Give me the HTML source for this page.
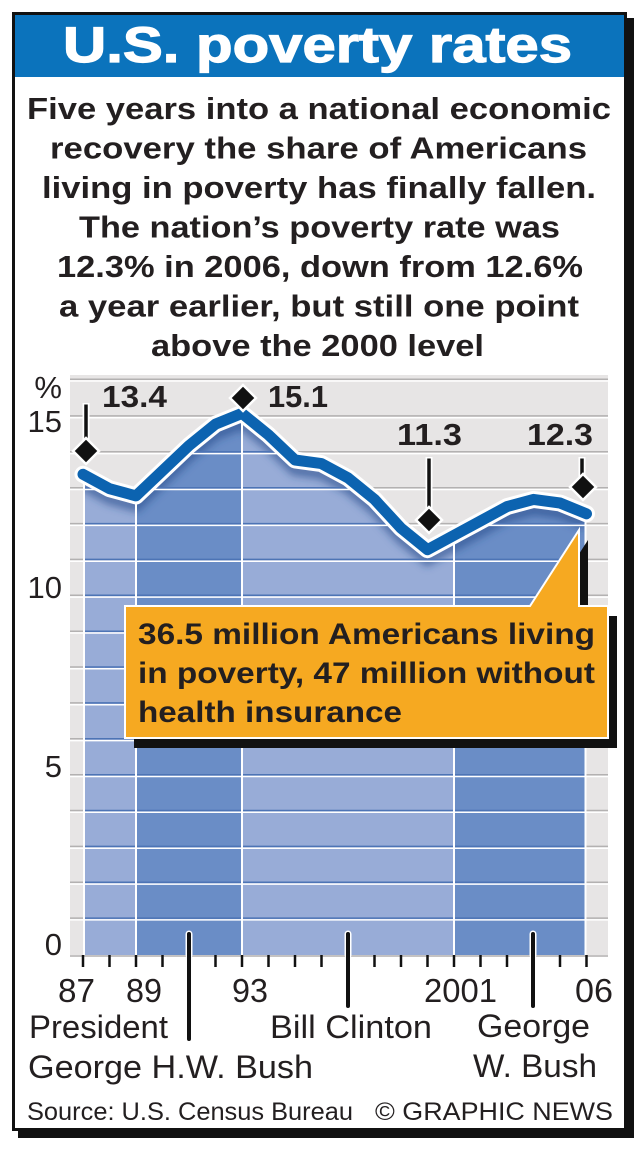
<!DOCTYPE html>
<html><head><meta charset="utf-8"><style>html,body{margin:0;padding:0;background:#fff}svg{display:block}text{font-family:"Liberation Sans",Arial,sans-serif}</style></head>
<body>
<svg width="642" height="1154" viewBox="0 0 642 1154" xmlns="http://www.w3.org/2000/svg">
<defs>
<clipPath id="area"><path d="M83,955 L83,474.3 L109.5,488.7 L136,495.9 L162.5,470.8 L189,445.6 L215.5,424.1 L242,413.4 L268.5,434.9 L295,460 L321.5,463.6 L348,477.9 L374.5,499.4 L401,528.1 L427.5,549.7 L454,535.3 L480.5,521 L507,506.6 L533.5,499.4 L560,503 L586.5,513.8 L586.5,955 Z"/></clipPath>
<filter id="blur" x="-10%" y="-50%" width="120%" height="200%"><feGaussianBlur stdDeviation="4"/></filter>
</defs>
<!-- frame + shadow -->
<rect x="18" y="18" width="616" height="1120" fill="#111"/>
<rect x="13.5" y="13.5" width="612" height="1116" fill="#fff" stroke="#111" stroke-width="3"/>
<rect x="15" y="15" width="609" height="62" fill="#0b73bc"/>
<text x="63" y="62" font-size="50" font-weight="bold" fill="#fff" stroke="#fff" stroke-width="1.2" textLength="509" lengthAdjust="spacingAndGlyphs">U.S. poverty rates</text>
<g font-size="31" font-weight="bold" fill="#231f20">
<text x="27" y="119" textLength="584" lengthAdjust="spacingAndGlyphs">Five years into a national economic</text>
<text x="50" y="158.5" textLength="537" lengthAdjust="spacingAndGlyphs">recovery the share of Americans</text>
<text x="42" y="198" textLength="554" lengthAdjust="spacingAndGlyphs">living in poverty has finally fallen.</text>
<text x="79" y="237.5" textLength="481" lengthAdjust="spacingAndGlyphs">The nation’s poverty rate was</text>
<text x="57" y="277" textLength="526" lengthAdjust="spacingAndGlyphs">12.3% in 2006, down from 12.6%</text>
<text x="59" y="316.5" textLength="520" lengthAdjust="spacingAndGlyphs">a year earlier, but still one point</text>
<text x="151" y="356" textLength="333" lengthAdjust="spacingAndGlyphs">above the 2000 level</text>
</g>
<!-- chart background -->
<rect x="70" y="375" width="538" height="580" fill="#e7e5e5"/>
<g stroke-width="1.5">
<g stroke="#b3b1b1">
<line x1="70" x2="608" y1="379.2" y2="379.2"/>
<line x1="70" x2="608" y1="415.9" y2="415.9"/>
<line x1="70" x2="608" y1="451.8" y2="451.8"/>
<line x1="70" x2="608" y1="487.7" y2="487.7"/>
<line x1="70" x2="608" y1="523.6" y2="523.6"/>
<line x1="70" x2="608" y1="559.4" y2="559.4"/>
<line x1="70" x2="608" y1="595.3" y2="595.3"/>
<line x1="70" x2="608" y1="631.2" y2="631.2"/>
<line x1="70" x2="608" y1="667.0" y2="667.0"/>
<line x1="70" x2="608" y1="702.9" y2="702.9"/>
<line x1="70" x2="608" y1="738.8" y2="738.8"/>
<line x1="70" x2="608" y1="774.7" y2="774.7"/>
<line x1="70" x2="608" y1="810.5" y2="810.5"/>
<line x1="70" x2="608" y1="846.4" y2="846.4"/>
<line x1="70" x2="608" y1="882.3" y2="882.3"/>
<line x1="70" x2="608" y1="918.1" y2="918.1"/>
</g>
<g stroke="#fff">
<line x1="70" x2="608" y1="381" y2="381"/>
<line x1="70" x2="608" y1="417.7" y2="417.7"/>
<line x1="70" x2="608" y1="453.6" y2="453.6"/>
<line x1="70" x2="608" y1="489.5" y2="489.5"/>
<line x1="70" x2="608" y1="525.4" y2="525.4"/>
<line x1="70" x2="608" y1="561.2" y2="561.2"/>
<line x1="70" x2="608" y1="597.1" y2="597.1"/>
<line x1="70" x2="608" y1="633" y2="633"/>
<line x1="70" x2="608" y1="668.8" y2="668.8"/>
<line x1="70" x2="608" y1="704.7" y2="704.7"/>
<line x1="70" x2="608" y1="740.6" y2="740.6"/>
<line x1="70" x2="608" y1="776.5" y2="776.5"/>
<line x1="70" x2="608" y1="812.3" y2="812.3"/>
<line x1="70" x2="608" y1="848.2" y2="848.2"/>
<line x1="70" x2="608" y1="884.1" y2="884.1"/>
<line x1="70" x2="608" y1="919.9" y2="919.9"/>
</g>
</g>
<!-- fill -->
<g clip-path="url(#area)">
<rect x="83" y="370" width="53" height="590" fill="#98acd7"/>
<rect x="136" y="370" width="106" height="590" fill="#6a8dc6"/>
<rect x="242" y="370" width="212" height="590" fill="#98acd7"/>
<rect x="454" y="370" width="133" height="590" fill="#6a8dc6"/>
<path d="M83,474.3 L109.5,488.7 L136,495.9 L162.5,470.8 L189,445.6 L215.5,424.1 L242,413.4 L268.5,434.9 L295,460 L321.5,463.6 L348,477.9 L374.5,499.4 L401,528.1 L427.5,549.7 L454,535.3 L480.5,521 L507,506.6 L533.5,499.4 L560,503 L586.5,513.8" fill="none" stroke="#2a4c8c" stroke-opacity="0.6" stroke-width="12" transform="translate(0,10)" filter="url(#blur)"/>
<g stroke-width="1.5">
<g stroke="#4d74b5">
<line x1="70" x2="608" y1="415.9" y2="415.9"/>
<line x1="70" x2="608" y1="451.8" y2="451.8"/>
<line x1="70" x2="608" y1="487.7" y2="487.7"/>
<line x1="70" x2="608" y1="523.6" y2="523.6"/>
<line x1="70" x2="608" y1="559.4" y2="559.4"/>
<line x1="70" x2="608" y1="595.3" y2="595.3"/>
<line x1="70" x2="608" y1="631.2" y2="631.2"/>
<line x1="70" x2="608" y1="667.0" y2="667.0"/>
<line x1="70" x2="608" y1="702.9" y2="702.9"/>
<line x1="70" x2="608" y1="738.8" y2="738.8"/>
<line x1="70" x2="608" y1="774.7" y2="774.7"/>
<line x1="70" x2="608" y1="810.5" y2="810.5"/>
<line x1="70" x2="608" y1="846.4" y2="846.4"/>
<line x1="70" x2="608" y1="882.3" y2="882.3"/>
<line x1="70" x2="608" y1="918.1" y2="918.1"/>
</g>
<g stroke="#fff">
<line x1="70" x2="608" y1="417.7" y2="417.7"/>
<line x1="70" x2="608" y1="453.6" y2="453.6"/>
<line x1="70" x2="608" y1="489.5" y2="489.5"/>
<line x1="70" x2="608" y1="525.4" y2="525.4"/>
<line x1="70" x2="608" y1="561.2" y2="561.2"/>
<line x1="70" x2="608" y1="597.1" y2="597.1"/>
<line x1="70" x2="608" y1="633" y2="633"/>
<line x1="70" x2="608" y1="668.8" y2="668.8"/>
<line x1="70" x2="608" y1="704.7" y2="704.7"/>
<line x1="70" x2="608" y1="740.6" y2="740.6"/>
<line x1="70" x2="608" y1="776.5" y2="776.5"/>
<line x1="70" x2="608" y1="812.3" y2="812.3"/>
<line x1="70" x2="608" y1="848.2" y2="848.2"/>
<line x1="70" x2="608" y1="884.1" y2="884.1"/>
<line x1="70" x2="608" y1="919.9" y2="919.9"/>
</g>
</g>
<g stroke="#fff" stroke-width="2">
<line x1="84" x2="84" y1="370" y2="960"/>
<line x1="136" x2="136" y1="370" y2="960"/>
<line x1="242" x2="242" y1="370" y2="960"/>
<line x1="454" x2="454" y1="370" y2="960"/>
<line x1="585.5" x2="585.5" y1="370" y2="960"/>
</g>
</g>
<!-- x axis -->
<line x1="70" x2="608" y1="956" y2="956" stroke="#c4c2c2" stroke-width="2"/>
<g stroke="#111" stroke-width="2.5">
<line x1="83" x2="83" y1="955" y2="967"/>
<line x1="109.5" x2="109.5" y1="955" y2="967"/>
<line x1="136" x2="136" y1="955" y2="967"/>
<line x1="162.5" x2="162.5" y1="955" y2="967"/>
<line x1="215.5" x2="215.5" y1="955" y2="967"/>
<line x1="242" x2="242" y1="955" y2="967"/>
<line x1="268.5" x2="268.5" y1="955" y2="967"/>
<line x1="295" x2="295" y1="955" y2="967"/>
<line x1="321.5" x2="321.5" y1="955" y2="967"/>
<line x1="374.5" x2="374.5" y1="955" y2="967"/>
<line x1="401" x2="401" y1="955" y2="967"/>
<line x1="427.5" x2="427.5" y1="955" y2="967"/>
<line x1="454" x2="454" y1="955" y2="967"/>
<line x1="480.5" x2="480.5" y1="955" y2="967"/>
<line x1="507" x2="507" y1="955" y2="967"/>
<line x1="560" x2="560" y1="955" y2="967"/>
<line x1="586.5" x2="586.5" y1="955" y2="967"/>
</g>
<!-- president lines -->
<g stroke="#fff" stroke-width="7" stroke-linecap="round">
<line x1="189" x2="189" y1="934" y2="955"/>
<line x1="348" x2="348" y1="934" y2="955"/>
<line x1="533" x2="533" y1="934" y2="955"/>
</g>
<g stroke="#111" stroke-width="4" stroke-linecap="round">
<line x1="189" x2="189" y1="934" y2="1039"/>
<line x1="348" x2="348" y1="934" y2="1006"/>
<line x1="533" x2="533" y1="934" y2="1006"/>
</g>
<!-- data line -->
<path d="M83,474.3 L109.5,488.7 L136,495.9 L162.5,470.8 L189,445.6 L215.5,424.1 L242,413.4 L268.5,434.9 L295,460 L321.5,463.6 L348,477.9 L374.5,499.4 L401,528.1 L427.5,549.7 L454,535.3 L480.5,521 L507,506.6 L533.5,499.4 L560,503 L586.5,513.8" fill="none" stroke="#fff" stroke-width="17" stroke-linejoin="round" stroke-linecap="round"/>
<path d="M83,474.3 L109.5,488.7 L136,495.9 L162.5,470.8 L189,445.6 L215.5,424.1 L242,413.4 L268.5,434.9 L295,460 L321.5,463.6 L348,477.9 L374.5,499.4 L401,528.1 L427.5,549.7 L454,535.3 L480.5,521 L507,506.6 L533.5,499.4 L560,503 L586.5,513.8" fill="none" stroke="#0c63b0" stroke-width="11" stroke-linejoin="round" stroke-linecap="round"/>
<!-- pointers -->
<g stroke="#fff" stroke-width="7">
<line x1="86" x2="86" y1="403" y2="451"/>
<line x1="429" x2="429" y1="457" y2="520"/>
<line x1="582" x2="582" y1="457" y2="487"/>
</g>
<g stroke="#111" stroke-width="3.5">
<line x1="86" x2="86" y1="404.5" y2="451"/>
<line x1="429" x2="429" y1="458.5" y2="520"/>
<line x1="582" x2="582" y1="458.5" y2="487"/>
</g>
<g fill="#111" stroke="#fff" stroke-width="2.5" stroke-linejoin="miter">
<path d="M86,438 L99,451 L86,464 L73,451 Z"/>
<path d="M243,385 L256,398 L243,411 L230,398 Z"/>
<path d="M429,507 L442,520 L429,533 L416,520 Z"/>
<path d="M583,474 L596,487 L583,500 L570,487 Z"/>
</g>
<g font-size="31" font-weight="bold" fill="#231f20">
<text x="102" y="407" textLength="65" lengthAdjust="spacingAndGlyphs">13.4</text>
<text x="268" y="407" textLength="60" lengthAdjust="spacingAndGlyphs">15.1</text>
<text x="397" y="445" textLength="65" lengthAdjust="spacingAndGlyphs">11.3</text>
<text x="527" y="445" textLength="66" lengthAdjust="spacingAndGlyphs">12.3</text>
</g>
<!-- y labels -->
<g font-size="31" fill="#231f20" text-anchor="end">
<text x="62" y="398">%</text>
<text x="62" y="432">15</text>
<text x="62" y="598">10</text>
<text x="62" y="777">5</text>
<text x="62" y="955">0</text>
</g>
<!-- callout -->
<path d="M134,616 L539,616 L588,540 L588,616 L617,616 L617,748 L134,748 Z" fill="#111"/>
<path d="M125,606 L530,606 L579,530 L579,606 L608,606 L608,738 L125,738 Z" fill="#f6a921" stroke="#fff" stroke-width="2" stroke-linejoin="miter"/>
<g font-size="30" font-weight="bold" fill="#231f20">
<text x="138" y="644" textLength="457" lengthAdjust="spacingAndGlyphs">36.5 million Americans living</text>
<text x="138" y="683" textLength="457" lengthAdjust="spacingAndGlyphs">in poverty, 47 million without</text>
<text x="138" y="722" textLength="264" lengthAdjust="spacingAndGlyphs">health insurance</text>
</g>
<!-- x labels -->
<g font-size="33" fill="#231f20">
<text x="58" y="1002" textLength="37" lengthAdjust="spacingAndGlyphs">87</text>
<text x="126" y="1002" textLength="36" lengthAdjust="spacingAndGlyphs">89</text>
<text x="232" y="1002" textLength="36" lengthAdjust="spacingAndGlyphs">93</text>
<text x="424" y="1002" textLength="73" lengthAdjust="spacingAndGlyphs">2001</text>
<text x="575" y="1002" textLength="38" lengthAdjust="spacingAndGlyphs">06</text>
</g>
<g font-size="32" fill="#231f20">
<text x="29" y="1038" textLength="139" lengthAdjust="spacingAndGlyphs">President</text>
<text x="28" y="1078" textLength="285" lengthAdjust="spacingAndGlyphs">George H.W. Bush</text>
<text x="270" y="1038" textLength="162" lengthAdjust="spacingAndGlyphs">Bill Clinton</text>
<text x="477" y="1037" textLength="113" lengthAdjust="spacingAndGlyphs">George</text>
<text x="473" y="1077" textLength="124" lengthAdjust="spacingAndGlyphs">W. Bush</text>
</g>
<g font-size="25" fill="#231f20">
<text x="27" y="1120" textLength="326" lengthAdjust="spacingAndGlyphs">Source: U.S. Census Bureau</text>
<text x="375" y="1120" textLength="238" lengthAdjust="spacingAndGlyphs">© GRAPHIC NEWS</text>
</g>
</svg>
</body></html>
